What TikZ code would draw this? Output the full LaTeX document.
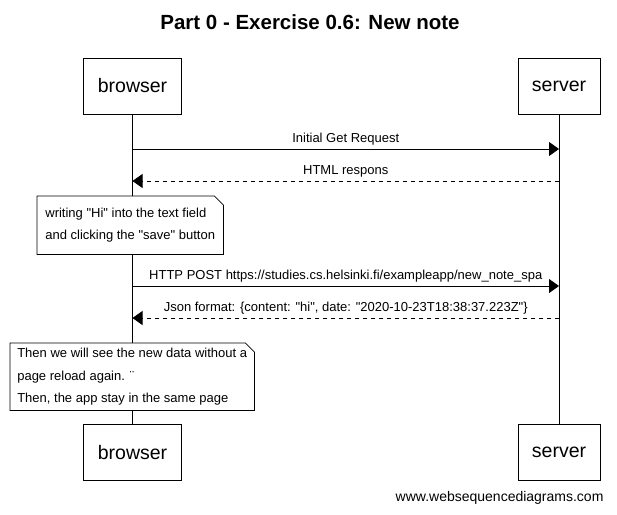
\documentclass[tikz,border=0pt]{standalone}
\usepackage{fontspec}
\setmainfont{Liberation Sans}
\newfontfamily\wsdfont{Liberation Sans}
\usetikzlibrary{arrows.meta,positioning}
\tikzset{
    actor/.style={draw, line width=0.8pt, minimum height=56pt, inner xsep=14pt, font=\fontsize{19.5}{23}\selectfont},
    msg/.style={line width=0.8pt, -{Triangle[length=10pt,width=14pt]}},
    reply/.style={msg, dash pattern=on 4pt off 4pt},
    lbl/.style={font=\fontsize{13}{15}\selectfont, inner sep=1pt, above=2pt},
    note/.style={fill=white, align=left, anchor=north west, inner sep=2pt, font=\fontsize{13}{22.5}\selectfont},
}
\begin{document}
\wsdfont
\begin{tikzpicture}[x=1pt,y=-1pt]
\useasboundingbox (0,0) rectangle (617,514);
\node[font=\bfseries\fontsize{20.5}{24}\selectfont] (title) at (310,22) {Part 0 - Exercise 0.6: New note};
\node[actor] (browser) at (132.5,86) {browser};
\node[actor] (server) at (559,86) {server};
\node[actor] (browser2) at (132.5,452.5) {browser};
\node[actor] (server2) at (559,452.5) {server};
\draw[line width=0.8pt] (browser) -- (browser2);
\draw[line width=0.8pt] (server) -- (server2);
% points on the lifelines
\foreach \n/\y in {1/149,2/181,3/286,4/318}{
    \coordinate (b\n) at (132.5,\y);
    \coordinate (s\n) at (559,\y);
}
\draw[msg] (b1) -- node[lbl] {Initial Get Request} (s1);
\draw[reply] (s2) -- node[lbl] {HTML respons} (b2);
\draw[msg] (b3) -- node[lbl] {HTTP POST https://studies.cs.helsinki.fi/exampleapp/new\_note\_spa} (s3);
\draw[reply] (s4) -- node[lbl] {Json format: \{content: "hi", date: "2020-10-23T18:38:37.223Z"\}} (b4);
% notes
\node[note, minimum width=186pt, minimum height=58pt] (note1) at (37,196)
    {writing "Hi" into the text field\\and clicking the "save" button};
\node[note, minimum width=244pt, minimum height=67pt] (note2) at (10,343)
    {Then we will see the new data without a\\page reload again. ¨\\Then, the app stay in the same page};
\foreach \n in {note1,note2}
    \draw[line width=0.8pt] (\n.north west) -- ([xshift=-9pt]\n.north east) -- ([yshift=-9pt]\n.north east)
        -- (\n.south east) -- (\n.south west) -- cycle;
\node[anchor=east, font=\fontsize{14}{16}\selectfont] (wsd) at (607,498) {www.websequencediagrams.com};
\end{tikzpicture}
\end{document}
